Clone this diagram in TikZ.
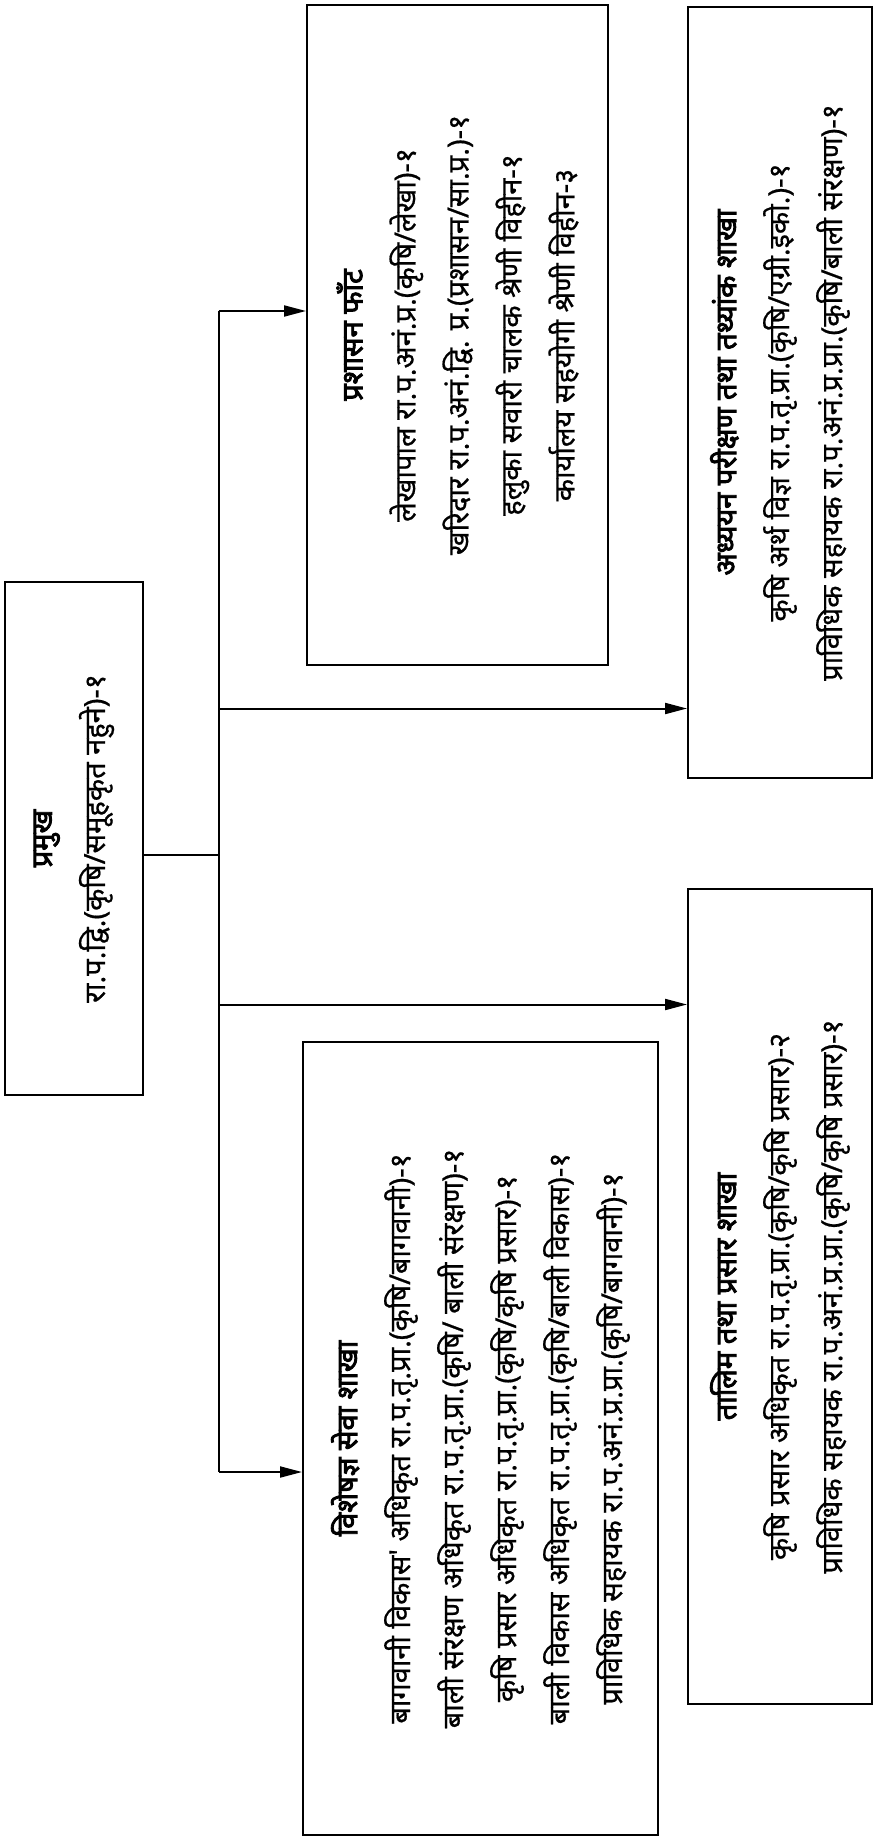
\documentclass[tikz,border=0pt]{standalone}
\usepackage{fontspec}
\newfontfamily\devfont[Script=Devanagari,FakeBold=0.6]{Noto Sans}
\newfontfamily\devbold[Script=Devanagari,FakeBold=3]{Noto Sans}
\usetikzlibrary{arrows.meta}
\begin{document}
\begin{tikzpicture}[x=1pt,y=-1pt]
        \tikzstyle{office}=[draw=black,line width=2pt,rotate=90,align=center,inner sep=0pt,font=\devfont\fontsize{29}{53}\selectfont]
        \tikzstyle{link}=[draw=black,line width=2pt]
        \tikzstyle{branch}=[link,-{Triangle[length=22pt,width=11pt]}]
        \newcommand{\head}[1]{{\devbold #1}}
        \useasboundingbox (0,0) rectangle (873,1843);
       \begin{scope}
         \node [office,minimum width=513pt,minimum height=138pt] (pramukh) at (74,838.5) {\head{प्रमुख}\\रा.प.द्वि.(कृषि/समूहकृत नहुने)-१};
         \node [office,minimum width=660pt,minimum height=301pt] (prashasan) at (457.5,335) {\head{प्रशासन फाँट}\\लेखापाल रा.प.अनं.प्र.(कृषि/लेखा)-१\\खरिदार रा.प.अनं.द्वि. प्र.(प्रशासन/सा.प्र.)-१\\हलुका सवारी चालक श्रेणी विहीन-१\\कार्यालय सहयोगी श्रेणी विहीन-३};
         \node [office,minimum width=771pt,minimum height=184pt] (adhyayan) at (780,392.5) {\head{अध्ययन परीक्षण तथा तथ्यांक शाखा}\\कृषि अर्थ विज्ञ रा.प.तृ.प्रा.(कृषि/एग्री.इको.)-१\\प्राविधिक सहायक रा.प.अनं.प्र.प्रा.(कृषि/बाली संरक्षण)-१};
         \node [office,minimum width=815pt,minimum height=184pt] (talim) at (780,1296.5) {\head{तालिम तथा प्रसार शाखा}\\कृषि प्रसार अधिकृत रा.प.तृ.प्रा.(कृषि/कृषि प्रसार)-२\\प्राविधिक सहायक रा.प.अनं.प्र.प्रा.(कृषि/कृषि प्रसार)-१};
         \node [office,minimum width=793pt,minimum height=355pt] (bishesh) at (480.5,1438.5) {\head{विशेषज्ञ सेवा शाखा}\\बागवानी विकास' अधिकृत रा.प.तृ.प्रा.(कृषि/बागवानी)-१\\बाली संरक्षण अधिकृत रा.प.तृ.प्रा.(कृषि/ बाली संरक्षण)-१\\कृषि प्रसार अधिकृत रा.प.तृ.प्रा.(कृषि/कृषि प्रसार)-१\\बाली विकास अधिकृत रा.प.तृ.प्रा.(कृषि/बाली विकास)-१\\प्राविधिक सहायक रा.प.अनं.प्र.प्रा.(कृषि/बागवानी)-१};
         \coordinate (jn) at (218.5,855);
         \coordinate (trtop) at (218.5,311);
         \coordinate (trbot) at (218.5,1472);
         \coordinate (tradh) at (218.5,708.5);
         \coordinate (trtal) at (218.5,1004.5);
         \path[link,line width=1.2pt] (pramukh.south |- jn) -- (jn);
         \path[link] (trtop) -- (trbot);
         \path[branch] (trtop) -- (trtop -| prashasan.north);
         \path[branch] (tradh) -- (tradh -| adhyayan.north);
         \path[branch] (trtal) -- (trtal -| talim.north);
         \path[branch] (trbot) -- (trbot -| bishesh.north);
        \end{scope}
      \end{tikzpicture}
\end{document}
